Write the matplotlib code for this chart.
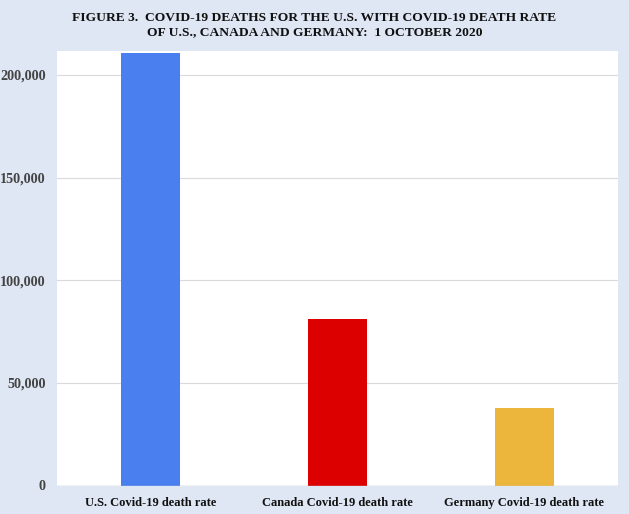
import matplotlib
matplotlib.use("Agg")
import matplotlib.pyplot as plt
from matplotlib.ticker import FuncFormatter

categories = ["U.S. Covid-19 death rate", "Canada Covid-19 death rate", "Germany Covid-19 death rate"]
values = [210600, 81100, 37600]
colors = ["#4a7ff0", "#dc0000", "#ebb63b"]
yticks = [0, 50000, 100000, 150000, 200000]
title = "FIGURE 3.  COVID-19 DEATHS FOR THE U.S. WITH COVID-19 DEATH RATE\nOF U.S., CANADA AND GERMANY:  1 OCTOBER 2020"

bg = "#dfe6f4"
fig = plt.figure(figsize=(6.29, 5.14), dpi=100, facecolor=bg)
ax = fig.add_axes([57/629, 1-485.5/514, (618-57)/629, (485.5-51)/514])
ax.set_facecolor("white")
x = range(len(categories))
ax.bar(x, values, width=0.315, color=colors, zorder=3)
ax.set_xlim(-0.5, 2.5)
ax.set_ylim(0, 211700)
ax.set_yticks(yticks)
ax.yaxis.set_major_formatter(FuncFormatter(lambda v, p: f"{int(v):,}"))
ax.set_xticks(list(x))
ax.set_xticklabels(categories)
ax.grid(axis="y", color="#dadada", linewidth=0.8, zorder=0)
for s in ax.spines.values():
    s.set_visible(False)
ax.axhline(0, color="#c8c8c8", linewidth=1.0, zorder=4)
ax.tick_params(length=0)
for lab in ax.get_yticklabels():
    lab.set_fontfamily("Liberation Serif")
    lab.set_fontweight("bold")
    lab.set_fontsize(10.2)
    lab.set_color("#444444")
for lab in ax.get_xticklabels():
    lab.set_fontfamily("Liberation Serif")
    lab.set_fontweight("bold")
    lab.set_fontsize(9)
    lab.set_color("#111111")
ax.tick_params(axis="y", pad=8)
ax.tick_params(axis="x", pad=8)
fig.text(0.5, 1-25/514, title, ha="center", va="center", multialignment="center",
         fontfamily="Liberation Serif", fontweight="bold", fontsize=9.7,
         linespacing=1.2, color="#111111")
fig.savefig("out.png", dpi=100, facecolor=bg)
